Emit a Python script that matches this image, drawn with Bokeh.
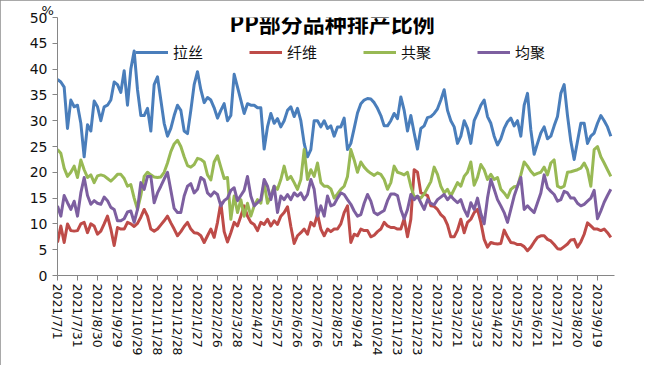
import pandas as pd
from bokeh.plotting import figure
from bokeh.models import Range1d, FixedTicker, Label, Legend, LegendItem, ColumnDataSource, Title
from bokeh.embed import file_html
from bokeh.resources import INLINE

# ---------------- data ----------------
title_text = "PP部分品种排产比例"
unit_text = "%"
series_names = ["拉丝", "纤维", "共聚", "均聚"]
series_colors = ["#4A7EBB", "#BE4B48", "#98B954", "#7D5FA0"]

first_date = "2021-07-01"
n_points = 167
sample_step = "5D"

tick_labels = ["2021/7/1", "2021/7/31", "2021/8/30", "2021/9/29", "2021/10/29", "2021/11/28",
               "2021/12/28", "2022/1/27", "2022/2/26", "2022/3/28", "2022/4/27", "2022/5/27",
               "2022/6/26", "2022/7/26", "2022/8/25", "2022/9/24", "2022/10/24", "2022/11/23",
               "2022/12/23", "2023/1/22", "2023/2/21", "2023/3/23", "2023/4/22", "2023/5/22",
               "2023/6/21", "2023/7/21", "2023/8/20", "2023/9/19"]

lasi = [38, 37.5, 36.5, 28.5, 34, 32.7, 33, 29.5, 23, 29.2, 28, 33.8, 32.7, 30, 32.7, 33, 34, 37.5, 37, 35.5,
        39.7, 33, 40, 43.5, 36, 31, 31, 32.4, 28, 37, 38.5, 34, 29.5, 27, 28.5, 31, 33, 32, 28, 27.5, 32,
        37, 39.5, 36, 33.5, 34.5, 34, 32.5, 30.5, 32, 33.3, 30, 31, 39, 36.5, 34, 31.4, 33.3, 33, 33, 32.5,
        32.5, 24.5, 28.8, 31.4, 29.5, 30.4, 28.8, 30, 32, 32.7, 30.8, 32.4, 30, 25.6, 23, 24.4, 30, 30, 28.8, 30, 28.5,
        29, 27, 28.8, 28.8, 30.5, 24.4, 25.6, 28.5, 31.5, 33.3, 34, 34.3, 34.2, 33.5, 32.4, 31, 29, 29, 30, 31.4,
        30.4, 34.6, 32, 28, 31, 27.6, 24.5, 28.5, 29, 30.6, 30.8, 31.4, 32.3, 34, 36, 32, 30, 28.8, 25.6,
        27, 30, 28.5, 25.6, 30, 31.4, 33, 34, 30.8, 29.5, 27, 25.3, 26.5, 28.5, 29.8, 30.5, 29, 30, 27, 33,
        35.3, 28.2, 23.5, 25.6, 27.6, 28.8, 26.5, 27, 29, 30.8, 35.3, 37, 31, 26, 22.5, 26, 29.5, 29.5, 25.6, 27,
        27.6, 29.5, 31, 30, 28.8, 27]

xianwei = [6.4, 9.6, 6.4, 10, 8.7, 8.6, 8.7, 10, 10.3, 8.3, 10, 9.6, 8, 8.6, 10, 11.5, 9, 5.8, 9.3, 9,
           9, 10.3, 10, 9.5, 10.1, 11.3, 12.8, 11.5, 9, 8.6, 9, 9.8, 10.6, 11.5, 10.2, 9, 7.7, 8.5, 9.5, 10.3, 9,
           8.3, 8.2, 7.7, 6.4, 7.7, 9, 7.4, 10.3, 14.1, 8.5, 6.5, 8.3, 10.3, 9.6, 11.5, 13.5, 11.5, 10.3, 9.9, 8.7,
           10.3, 9.9, 10.9, 9.6, 10.6, 9.9, 11.5, 12.2, 13.3, 9.5, 6.2, 7.7, 8.3, 9, 8, 10.3, 9.6, 11.9, 9, 7.7, 9,
           8.5, 9, 9, 10, 12.2, 13.5, 6.4, 8, 7.7, 9, 8.7, 8.7, 7.5, 7.8, 8.5, 9, 10.3, 9.6, 9.3, 9.3,
           9, 9, 11, 7.5, 10.9, 20.5, 20, 16, 15.8, 15.5, 13.5, 13.4, 12.8, 11.8, 11.2, 9.8, 7.5, 7.5, 8.8,
           10.9, 8.3, 10.3, 10.9, 12.2, 12.8, 10.3, 7, 5.5, 6.4, 6.2, 6.1, 6.2, 8.8, 7.5, 6.4, 6.3, 6, 6, 5.6,
           4.8, 5.5, 6.5, 7.4, 7.7, 7.7, 7, 6.7, 6, 5.2, 5.1, 5.6, 6.1, 6.9, 7, 5.5, 6.5, 8, 10.2, 9.6,
           9, 9, 8.7, 9, 8.3, 7.4]

gongju = [24.4, 23.7, 20.8, 19.2, 20, 21.2, 19, 22.4, 20.5, 19, 19.5, 18, 19.3, 19.5, 19.3, 18.8, 18.3, 18.9, 19.6, 19.6,
          18.8, 17.3, 17.6, 15, 12.8, 15.5, 19.2, 20, 19.5, 19.1, 19, 19.1, 20, 21.8, 24, 25.5, 26.2, 25, 23, 21.3, 21,
          21.5, 22.7, 22.5, 22, 19.5, 18.5, 22, 23.2, 21, 18.8, 19, 10.9, 15.4, 12.2, 14.7, 11.5, 14, 11.5, 13.5, 14.7,
          14, 18, 14, 15.4, 17.3, 16.7, 18.6, 21.2, 18.6, 19.2, 18, 16.7, 18.6, 24.4, 18.6, 20.5, 19.2, 21.8, 18, 17.3, 17.3,
          16.8, 15, 15.8, 16.7, 17.3, 19.2, 24.4, 22.4, 20, 22, 21, 20.3, 19.8, 19.4, 19.9, 19.6, 18.6, 16.7, 18, 21.2,
          20, 19.8, 19.5, 20, 17.3, 15.2, 15.3, 15, 15.8, 17, 18.2, 21, 19.6, 17.3, 16, 16.7, 15.4, 16.7, 18,
          17.3, 19.2, 20, 22, 17.5, 19, 21.5, 20.5, 18.6, 19.6, 18.6, 19, 16.7, 16, 15.1, 16.7, 17.2, 17.3, 19.5, 22,
          21.2, 20.2, 19.5, 19.8, 20, 21, 19.5, 21.8, 22.4, 17.3, 17, 17.3, 20, 20.1, 20.3, 20.5, 20.8, 21.8, 20.5, 17.3,
          24.4, 25, 23, 21.8, 20.5, 19.2]

junju = [13.5, 11.5, 15.5, 14.1, 12.8, 14.4, 11.5, 16, 19, 15.5, 13.8, 14.5, 14, 13.8, 15.2, 14.5, 13.2, 12.8, 10.6, 10.6,
         11, 12.3, 12.5, 10.3, 12.8, 18, 16.7, 19.2, 19.2, 14.1, 16, 17.3, 18.7, 20, 16.5, 13, 12.2, 12.2, 15.4, 17.3, 17.8,
         16, 16.7, 19, 18.5, 16, 15.4, 16.2, 15.7, 13.5, 14.5, 15, 16.5, 17, 14.5, 15.5, 16.5, 19.2, 15.4, 13.5, 14.1,
         14.7, 18.6, 17.3, 14.7, 17.3, 12.2, 15.4, 14.7, 15.7, 14.7, 16, 15.4, 16, 14.7, 15.7, 18.6, 16.7, 11.5, 13.5, 11.5, 15.4,
         13.5, 13.8, 15, 16, 15.7, 14.7, 13.8, 12.5, 11.5, 11.8, 14, 15.7, 14.4, 12.2, 11.8, 12.2, 12.6, 14.5, 15.8, 15.8,
         15.5, 12.8, 11, 12.8, 15.7, 14.7, 15.4, 14.1, 12.8, 14.7, 14, 13.7, 14.7, 15.2, 15.7, 14.7, 15.4, 14.7, 14.1,
         14.7, 12.8, 11.5, 14.1, 12.8, 15, 12, 10, 15, 18.6, 16.7, 14.7, 13.5, 12.2, 10.3, 12.8, 15.4, 17.3, 19, 12.8,
         13.5, 12.8, 12.2, 14.1, 16, 19.5, 17, 16.3, 15.7, 14.4, 14.7, 16.3, 16, 15, 15, 14, 13.5, 13.8, 14.4, 15,
         16.5, 11, 12.5, 14.2, 15.5, 16.7]

y_ticks = [0, 5, 10, 15, 20, 25, 30, 35, 40, 45, 50]

# ---------------- build ----------------
origin = pd.Timestamp(first_date)
dates = pd.date_range(first_date, periods=n_points, freq=sample_step)
day_x = [(d - origin).days for d in dates]
tick_days = [(pd.to_datetime(t, format="%Y/%m/%d") - origin).days for t in tick_labels]

source = ColumnDataSource(dict(x=day_x, lasi=lasi, xianwei=xianwei, gongju=gongju, junju=junju))

CJK = "Noto Sans CJK SC"
NUM = "DejaVu Sans"

p = figure(width=644, height=365, output_backend="svg", toolbar_location=None,
           x_range=Range1d(0, 835.5), y_range=Range1d(0, 50),
           min_border_left=57, min_border_right=30, min_border_top=16, min_border_bottom=90,
           styles={"outline": "1px solid #8c8c8c", "outline-offset": "-1px"})
p.outline_line_color = None
p.background_fill_color = "white"
p.border_fill_color = "white"
p.xgrid.grid_line_color = None
p.ygrid.grid_line_color = None

renderers = []
for col, color in zip(["lasi", "xianwei", "gongju", "junju"], series_colors):
    r = p.line("x", col, source=source, line_color=color, line_width=3, line_join="round")
    renderers.append(r)

# axes
for ax in (p.xaxis[0], p.yaxis[0]):
    ax.axis_line_color = "#868686"
    ax.major_tick_line_color = "#868686"
    ax.minor_tick_line_color = None
    ax.major_tick_in = 0
    ax.major_tick_out = 5
    ax.major_label_text_font = NUM
    ax.major_label_text_color = "#111111"

p.yaxis.ticker = FixedTicker(ticks=y_ticks)
p.yaxis.major_label_text_font_size = "14px"
p.yaxis.major_label_standoff = 5

p.xaxis.ticker = FixedTicker(ticks=tick_days)
p.xaxis.major_label_overrides = {d: lab for d, lab in zip(tick_days, tick_labels)}
p.xaxis.major_label_orientation = "vertical"
p.xaxis.major_label_text_font_size = "12.5px"
p.xaxis.major_label_standoff = 3

# legend
items = [LegendItem(label=n, renderers=[r]) for n, r in zip(series_names, renderers)]
legend = Legend(items=items, orientation="horizontal", location=(78, 213),
                padding=0, margin=0, spacing=46, glyph_width=33, glyph_height=20,
                label_standoff=5, label_text_font=CJK, label_text_font_size="15px",
                label_text_color="#111111", border_line_color=None, background_fill_alpha=0)
p.add_layout(legend)

# title (inside the frame, as in the reference)
p.add_layout(Label(x=412, y=49.2, text=title_text, text_font=CJK, text_font_size="22px",
                   text_font_style="bold", text_align="center", text_baseline="middle",
                   text_color="#000000"))
# unit above the value axis
unit = Title(text=unit_text, align="left", offset=-16, standoff=0, vertical_align="bottom",
             text_font=NUM, text_font_size="13px", text_font_style="normal", text_color="#111111")
p.add_layout(unit, "above")

open("out.html", "w").write(file_html(p, INLINE))
